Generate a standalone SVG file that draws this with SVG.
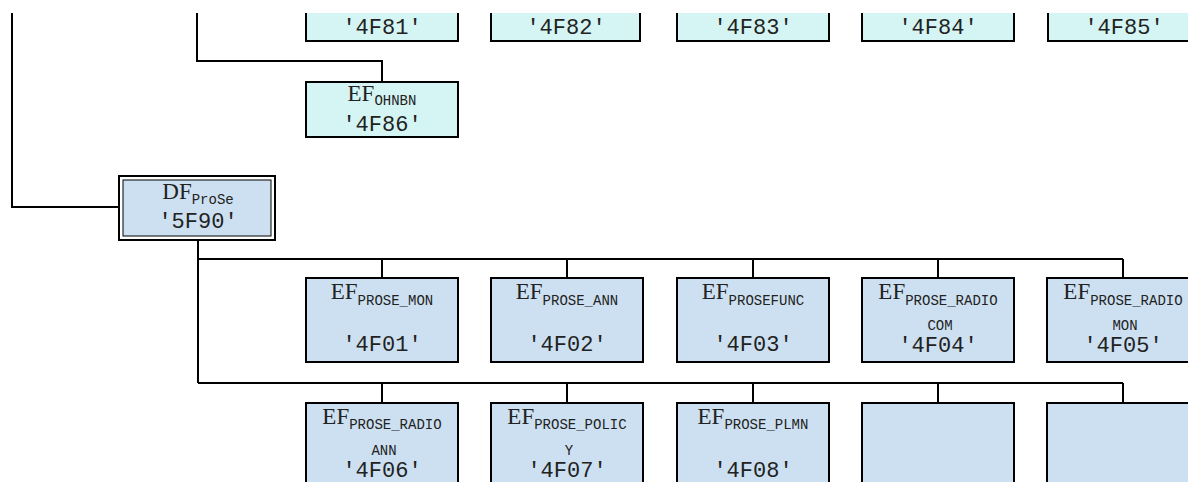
<svg xmlns="http://www.w3.org/2000/svg" width="1188" height="482" viewBox="0 0 1188 482">
<style>
.cy{fill:#d5f4f4}
.bl{fill:#cce0f1}
.bd{fill:none;stroke:#000;stroke-width:2}
.c{fill:none;stroke:#000;stroke-width:2}
text{font-family:"Liberation Mono","DejaVu Sans Mono",monospace;fill:#222;text-anchor:middle}
.m{font-size:22px}
.s{font-size:14px}
.mn{font-family:"Liberation Serif","Times New Roman",serif;font-size:23px}
</style>
<rect width="1188" height="482" fill="#fff"/>
<g id="connectors">
<path class="c" d="M12 13V207H119"/>
<path class="c" d="M197 13V61H382V82"/>
<path class="c" d="M198 240V383"/>
<path class="c" d="M198 259H1123M382 259V278M567 259V278M753 259V278M938 259V278M1123 259V278"/>
<path class="c" d="M198 383H1123M382 383V403M567 383V403M753 383V403M938 383V403M1123 383V403"/>
</g>
<g id="ef4f81"><rect class="cy" x="306" y="13" width="152" height="28"/><path class="bd" d="M306 13V41H458V13"/><text class="m" x="382" y="34">'4F81'</text></g>
<g id="ef4f82"><rect class="cy" x="491" y="13" width="149" height="28"/><path class="bd" d="M491 13V41H640V13"/><text class="m" x="566" y="34">'4F82'</text></g>
<g id="ef4f83"><rect class="cy" x="677" y="13" width="152" height="28"/><path class="bd" d="M677 13V41H829V13"/><text class="m" x="753" y="34">'4F83'</text></g>
<g id="ef4f84"><rect class="cy" x="862" y="13" width="152" height="28"/><path class="bd" d="M862 13V41H1014V13"/><text class="m" x="938" y="34">'4F84'</text></g>
<g id="ef4f85"><rect class="cy" x="1048" y="13" width="152" height="28"/><path class="bd" d="M1048 13V41H1200V13"/><text class="m" x="1124" y="34">'4F85'</text></g>
<g id="ef4f86"><rect class="bd" x="306" y="82" width="152" height="55" style="fill:#d5f4f4"/><text x="382" y="101"><tspan class="mn">EF</tspan><tspan class="s" dy="4">OHNBN</tspan></text><text class="m" x="382" y="131">'4F86'</text></g>
<g id="df5f90"><rect x="119" y="176" width="156" height="64" fill="#fff" stroke="#000" stroke-width="2"/><rect x="123" y="180" width="148" height="56" class="bl" stroke="#000" stroke-width="1"/><text x="198" y="199"><tspan class="mn">DF</tspan><tspan class="s" dy="5">ProSe</tspan></text><text class="m" x="198" y="228">'5F90'</text></g>
<g id="ef4f01"><rect class="bl" x="306" y="278" width="152" height="84" stroke="#000" stroke-width="2"/><text x="382" y="299"><tspan class="mn">EF</tspan><tspan class="s" dy="6">PROSE_MON</tspan></text><text class="m" x="382" y="351">'4F01'</text></g>
<g id="ef4f02"><rect class="bl" x="491" y="278" width="152" height="84" stroke="#000" stroke-width="2"/><text x="567" y="299"><tspan class="mn">EF</tspan><tspan class="s" dy="6">PROSE_ANN</tspan></text><text class="m" x="567" y="351">'4F02'</text></g>
<g id="ef4f03"><rect class="bl" x="677" y="278" width="152" height="84" stroke="#000" stroke-width="2"/><text x="753" y="299"><tspan class="mn">EF</tspan><tspan class="s" dy="6">PROSEFUNC</tspan></text><text class="m" x="753" y="351">'4F03'</text></g>
<g id="ef4f04"><rect class="bl" x="862" y="278" width="152" height="84" stroke="#000" stroke-width="2"/><text x="938" y="299"><tspan class="mn">EF</tspan><tspan class="s" dy="6">PROSE_RADIO</tspan></text><text class="s" x="940" y="330">COM</text><text class="m" x="938" y="352">'4F04'</text></g>
<g id="ef4f05"><rect class="bl" x="1047" y="278" width="152" height="84" stroke="#000" stroke-width="2"/><text x="1123" y="299"><tspan class="mn">EF</tspan><tspan class="s" dy="6">PROSE_RADIO</tspan></text><text class="s" x="1125" y="330">MON</text><text class="m" x="1123" y="352">'4F05'</text></g>
<g id="ef4f06"><rect class="bl" x="306" y="403" width="152" height="90" stroke="#000" stroke-width="2"/><text x="382" y="424"><tspan class="mn">EF</tspan><tspan class="s" dy="5">PROSE_RADIO</tspan></text><text class="s" x="384" y="455">ANN</text><text class="m" x="382" y="477">'4F06'</text></g>
<g id="ef4f07"><rect class="bl" x="491" y="403" width="152" height="90" stroke="#000" stroke-width="2"/><text x="567" y="424"><tspan class="mn">EF</tspan><tspan class="s" dy="5">PROSE_POLIC</tspan></text><text class="s" x="569" y="455">Y</text><text class="m" x="567" y="477">'4F07'</text></g>
<g id="ef4f08"><rect class="bl" x="677" y="403" width="152" height="90" stroke="#000" stroke-width="2"/><text x="753" y="424"><tspan class="mn">EF</tspan><tspan class="s" dy="5">PROSE_PLMN</tspan></text><text class="m" x="753" y="477">'4F08'</text></g>
<g id="ef-empty1"><rect class="bl" x="862" y="403" width="152" height="90" stroke="#000" stroke-width="2"/></g>
<g id="ef-empty2"><rect class="bl" x="1047" y="403" width="152" height="90" stroke="#000" stroke-width="2"/></g>
</svg>
